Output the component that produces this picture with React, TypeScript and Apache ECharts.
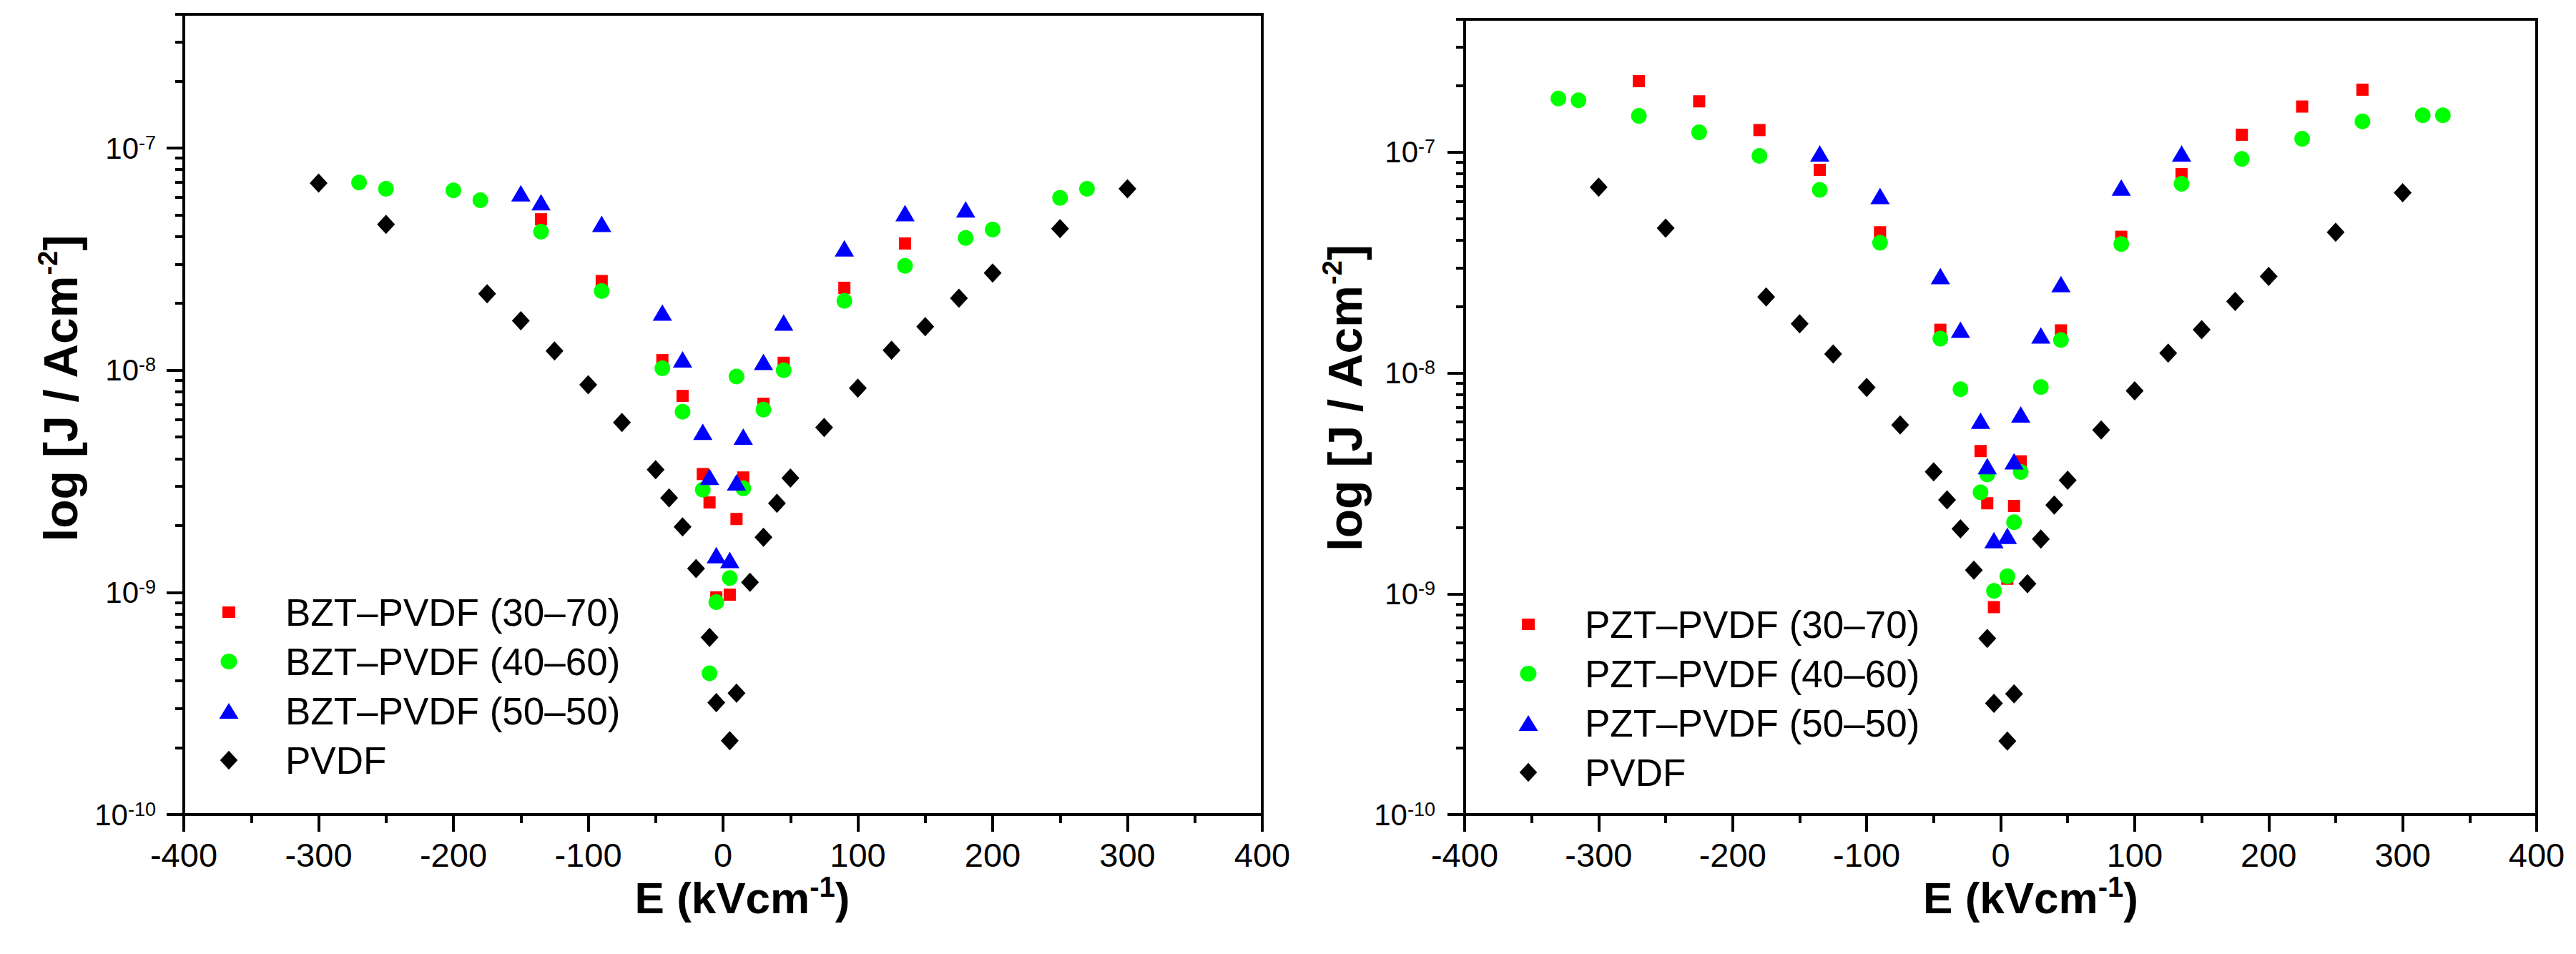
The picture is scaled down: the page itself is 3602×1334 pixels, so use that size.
import { useEffect, useRef } from 'react';
import * as echarts from 'echarts';

// E in kV/cm, J in A/cm^2
const pvdfE = [-300, -250, -175, -150, -125, -100, -75, -50, -40, -30, -20, -10, -5, 5, 10, 20, 30, 40, 50, 75, 100, 125, 150, 175, 200, 250, 300];
const pvdfJ = [6.95e-8, 4.53e-8, 2.21e-8, 1.67e-8, 1.22e-8, 8.6e-9, 5.82e-9, 3.57e-9, 2.66e-9, 1.97e-9, 1.28e-9, 6.27e-10, 3.19e-10, 2.15e-10, 3.52e-10, 1.11e-9, 1.77e-9, 2.52e-9, 3.27e-9, 5.52e-9, 8.3e-9, 1.23e-8, 1.57e-8, 2.11e-8, 2.74e-8, 4.34e-8, 6.56e-8];

const bzt3070E = [-135, -90, -45, -30, -15, -10, -5, 5, 10, 15, 30, 45, 90, 135];
const bzt3070J = [4.78e-8, 2.52e-8, 1.11e-8, 7.66e-9, 3.41e-9, 2.54e-9, 9.5e-10, 9.77e-10, 2.14e-9, 3.29e-9, 7.06e-9, 1.08e-8, 2.35e-8, 3.72e-8];

const bzt4060E = [-270, -250, -200, -180, -135, -90, -45, -30, -15, -10, -5, 5, 10, 15, 30, 45, 90, 135, 180, 200, 250, 270];
const bzt4060J = [7.0e-8, 6.56e-8, 6.45e-8, 5.82e-8, 4.2e-8, 2.27e-8, 1.02e-8, 6.5e-9, 2.9e-9, 4.32e-10, 9.04e-10, 1.16e-9, 9.37e-9, 2.94e-9, 6.65e-9, 1.0e-8, 2.05e-8, 2.95e-8, 3.94e-8, 4.3e-8, 5.97e-8, 6.56e-8];

const bzt5050E = [-150, -135, -90, -45, -30, -15, -10, -5, 5, 10, 15, 30, 45, 90, 135, 180];
const bzt5050J = [6.26e-8, 5.7e-8, 4.56e-8, 1.82e-8, 1.12e-8, 5.28e-9, 3.31e-9, 1.47e-9, 1.4e-9, 3.13e-9, 5.03e-9, 1.09e-8, 1.64e-8, 3.54e-8, 5.1e-8, 5.3e-8];

const pzt3070E = [-270, -225, -180, -135, -90, -45, -15, -10, -5, 5, 10, 15, 45, 90, 135, 180, 225, 270];
const pzt3070J = [2.1e-7, 1.7e-7, 1.26e-7, 8.32e-8, 4.34e-8, 1.57e-8, 4.43e-9, 2.57e-9, 8.7e-10, 1.17e-9, 2.5e-9, 3.98e-9, 1.56e-8, 4.14e-8, 7.96e-8, 1.2e-7, 1.61e-7, 1.92e-7];

const pzt4060E = [-330, -315, -270, -225, -180, -135, -90, -45, -30, -15, -10, -5, 5, 10, 15, 30, 45, 90, 135, 180, 225, 270, 315, 330];
const pzt4060J = [1.75e-7, 1.72e-7, 1.46e-7, 1.23e-7, 9.62e-8, 6.75e-8, 3.89e-8, 1.43e-8, 8.45e-9, 2.88e-9, 3.47e-9, 1.03e-9, 1.2e-9, 2.11e-9, 3.56e-9, 8.63e-9, 1.41e-8, 3.84e-8, 7.19e-8, 9.32e-8, 1.15e-7, 1.38e-7, 1.47e-7, 1.47e-7];

const pzt5050E = [-135, -90, -45, -30, -15, -10, -5, 5, 10, 15, 30, 45, 90, 135];
const pzt5050J = [9.87e-8, 6.34e-8, 2.75e-8, 1.57e-8, 6.08e-9, 3.79e-9, 1.75e-9, 1.83e-9, 3.98e-9, 6.49e-9, 1.48e-8, 2.53e-8, 6.92e-8, 9.87e-8];

const xTicks = [-400, -300, -200, -100, 0, 100, 200, 300, 400];
const yDecades = [-10, -9, -8, -7];

const FONT = '"Liberation Sans", Arial, Helvetica, sans-serif';
const LOG_MIN = -10;
const LOG_MAX = -7 + Math.log10(4);

// 2..9 x 10^n minor ticks, in log space
const minorLogs: number[] = [];
for (const n of yDecades) {
    for (let k = 2; k <= 9; k++) {
        const v = n + Math.log10(k);
        if (v <= LOG_MAX + 1e-9) minorLogs.push(v);
    }
}

const toPoints = (e: number[], j: number[]) => e.map((x, i) => [x, Math.log10(j[i])]);

// legend icons drawn in a 28x28 box; the two leading moves pin the box so each keeps its own size
const BOX = 'M0,0 M28,28 ';
const legendIcons = [
    'path://' + BOX + 'M5,6 L23,6 L23,22 L5,22 Z',
    'path://' + BOX + 'M2.5,14 A11.5,11 0 1,0 25.5,14 A11.5,11 0 1,0 2.5,14 Z',
    'path://' + BOX + 'M0.5,25 L14,3 L27.5,25 Z',
    'path://' + BOX + 'M14,0.7 L26.3,14 L14,27.3 L1.7,14 Z',
];

const panels = [
    {
        prefix: 'BZT',
        grid: { left: 257, top: 20, width: 1508, height: 1119 },
        legend: { left: 306, top: 829, gap: 15 },
        yLabelMargin: 39,
        yNameGap: 139,
        yNameShift: 72,
        xNameShift: 54,
        sets: [
            { e: bzt3070E, j: bzt3070J },
            { e: bzt4060E, j: bzt4060J },
            { e: bzt5050E, j: bzt5050J },
        ],
    },
    {
        prefix: 'PZT',
        grid: { left: 2048, top: 27, width: 1499, height: 1112 },
        legend: { left: 2123, top: 846, gap: 15 },
        yLabelMargin: 41,
        yNameGap: 134,
        yNameShift: 52,
        xNameShift: 84,
        sets: [
            { e: pzt3070E, j: pzt3070J },
            { e: pzt4060E, j: pzt4060J },
            { e: pzt5050E, j: pzt5050J },
        ],
    },
];

const looks = [
    { ratio: '(30–70)', symbol: 'rect', size: 17, color: '#FF0000' },
    { ratio: '(40–60)', symbol: 'circle', size: 22, color: '#00FF00' },
    { ratio: '(50–50)', symbol: 'triangle', size: [27, 23], color: '#0000FF' },
];

function buildOption() {
    const grid: any[] = [];
    const xAxis: any[] = [];
    const yAxis: any[] = [];
    const legend: any[] = [];
    const series: any[] = [];

    panels.forEach((p, g) => {
        grid.push({ ...p.grid, show: true, borderColor: '#000', borderWidth: 4, backgroundColor: 'transparent' });

        xAxis.push({
            type: 'value',
            gridIndex: g,
            min: -400,
            max: 400,
            interval: 100,
            axisLine: { show: true, onZero: false, lineStyle: { color: '#000', width: 4 } },
            axisTick: { show: true, length: 24, lineStyle: { color: '#000', width: 4 } },
            minorTick: { show: true, splitNumber: 2, length: 12, lineStyle: { color: '#000', width: 4 } },
            splitLine: { show: false },
            axisLabel: { fontFamily: FONT, fontSize: 47, color: '#000', margin: 33, customValues: xTicks },
            name: '{t|E (kVcm}{s|-1}{t|)}',
            nameLocation: 'middle',
            nameGap: 81,
            nameMoveOverlap: false,
            nameTextStyle: {
                padding: [0, 0, 0, p.xNameShift],
                rich: {
                    t: { fontFamily: FONT, fontSize: 62, fontWeight: 'bold', color: '#000', lineHeight: 66, verticalAlign: 'bottom' },
                    s: { fontFamily: FONT, fontSize: 40, fontWeight: 'bold', color: '#000', lineHeight: 40, verticalAlign: 'top', padding: [0, 0, 51, 0] },
                },
            },
        });

        yAxis.push({
            type: 'value',
            gridIndex: g,
            position: 'left',
            min: LOG_MIN,
            max: LOG_MAX,
            interval: 1,
            axisLine: { show: true, onZero: false, lineStyle: { color: '#000', width: 4 } },
            axisTick: { show: true, length: 24, lineStyle: { color: '#000', width: 4 }, customValues: yDecades },
            splitLine: { show: false },
            axisLabel: {
                margin: p.yLabelMargin,
                customValues: yDecades,
                formatter: (v: number) => `{b|10}{s|${Math.round(v)}}`,
                rich: {
                    b: { fontFamily: FONT, fontSize: 42, color: '#000', lineHeight: 42, verticalAlign: 'bottom' },
                    s: { fontFamily: FONT, fontSize: 27, color: '#000', lineHeight: 27, verticalAlign: 'top', padding: [0, 0, 21, 0] },
                },
            },
            name: '{t|log [J / Acm}{s|-2}{t|]}',
            nameLocation: 'middle',
            nameGap: p.yNameGap,
            nameMoveOverlap: false,
            nameTextStyle: {
                padding: [0, 0, 0, p.yNameShift],
                rich: {
                    t: { fontFamily: FONT, fontSize: 66, fontWeight: 'bold', color: '#000', lineHeight: 70, verticalAlign: 'bottom' },
                    s: { fontFamily: FONT, fontSize: 38, fontWeight: 'bold', color: '#000', lineHeight: 38, verticalAlign: 'top', padding: [0, 0, 47, 0] },
                },
            },
        });

        // second y axis only for the 2..9 minor ticks
        yAxis.push({
            type: 'value',
            gridIndex: g,
            position: 'left',
            min: LOG_MIN,
            max: LOG_MAX,
            interval: 1,
            axisLine: { show: false, onZero: false },
            axisTick: { show: true, length: 12, lineStyle: { color: '#000', width: 4 }, customValues: minorLogs },
            axisLabel: { show: false },
            splitLine: { show: false },
        });

        const names: string[] = [];
        p.sets.forEach((s, k) => {
            const look = looks[k];
            const name = `${p.prefix}–PVDF ${look.ratio}`;
            names.push(name);
            series.push({
                type: 'scatter',
                name,
                xAxisIndex: g,
                yAxisIndex: g * 2,
                symbol: look.symbol,
                symbolSize: look.size,
                itemStyle: { color: look.color, opacity: 1 },
                data: toPoints(s.e, s.j),
                z: 2 + k,
            });
        });
        series.push({
            type: 'scatter',
            name: 'PVDF',
            xAxisIndex: g,
            yAxisIndex: g * 2,
            symbol: 'diamond',
            symbolSize: [25, 27],
            itemStyle: { color: '#000', opacity: 1 },
            data: toPoints(pvdfE, pvdfJ),
            z: 6,
        });
        names.push('PVDF');

        legend.push({
            orient: 'vertical',
            left: p.legend.left,
            top: p.legend.top,
            padding: 0,
            itemWidth: 28,
            itemHeight: 28,
            itemGap: p.legend.gap,
            selectedMode: false,
            symbolKeepAspect: true,
            data: names.map((n, i) => ({ name: n, icon: legendIcons[i], itemStyle: { opacity: 1 } })),
            textStyle: { fontFamily: FONT, fontSize: 53, color: '#000', lineHeight: 54, padding: [0, 0, 0, 60] },
        });
    });

    return {
        animation: false,
        backgroundColor: '#fff',
        textStyle: { fontFamily: FONT },
        grid,
        xAxis,
        yAxis,
        legend,
        series,
    };
}

export default function App() {
    const chartRef = useRef<HTMLDivElement>(null);

    useEffect(() => {
        if (!chartRef.current) return;
        const chart = echarts.init(chartRef.current, null, { renderer: 'svg' });
        chart.setOption(buildOption());
        return () => {
            chart.dispose();
        };
    }, []);

    return (
        <div
            ref={chartRef}
            style={{ position: 'absolute', left: 0, top: 0, width: 3602, height: 1334, background: '#fff' }}
        />
    );
}
